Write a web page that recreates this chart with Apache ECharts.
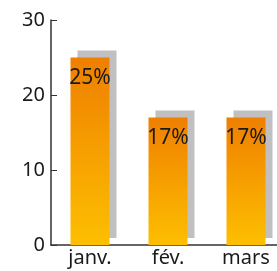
<!DOCTYPE html>
<html>
<head>
<meta charset="utf-8">
<script src="https://cdn.jsdelivr.net/npm/echarts@6/dist/echarts.min.js"></script>
<style>
  html, body { margin: 0; padding: 0; background: #fff; }
  #chart { width: 277px; height: 271px; }
</style>
</head>
<body>
<div id="chart"></div>
<script>
const categories = ['janv.', 'fév.', 'mars']
const values = [25, 17, 17]
const labels = ['25%', '17%', '17%']

const chart = echarts.init(document.getElementById('chart'))
const font = 'Noto Sans'
const option = {
  animation: false,
  grid: {
    left: 51,
    top: 20,
    bottom: 26,
    right: -8,
    containLabel: false,
    outerBoundsMode: 'none'
  },
  xAxis: {
    type: 'category',
    data: categories,
    axisLine: { lineStyle: { color: '#333', width: 1.5 } },
    axisTick: { inside: true, length: 4, lineStyle: { color: '#333' } },
    axisLabel: { color: '#1a1a1a', fontSize: 20, fontFamily: font, margin: 3 }
  },
  yAxis: {
    type: 'value',
    min: 0,
    max: 30,
    interval: 10,
    splitLine: { show: false },
    axisLine: { show: true, lineStyle: { color: '#333', width: 1.5 } },
    axisTick: { show: true, inside: true, length: 6, lineStyle: { color: '#333' } },
    axisLabel: { color: '#1a1a1a', fontSize: 20, fontFamily: font, margin: 6 }
  },
  series: [
    {
      type: 'bar',
      barWidth: '50%',
      data: values,
      itemStyle: {
        color: new echarts.graphic.LinearGradient(0, 0, 0, 1, [
          { offset: 0, color: '#ef7f00' },
          { offset: 1, color: '#fdbf00' }
        ]),
        shadowColor: '#c0c0c0',
        shadowBlur: 0,
        shadowOffsetX: 7,
        shadowOffsetY: -7
      },
      label: {
        show: true,
        position: 'insideTop',
        distance: 10,
        color: '#1a1a1a',
        fontSize: 21,
        fontFamily: font,
        formatter: (p) => labels[p.dataIndex]
      }
    }
  ]
}
chart.setOption(option)
</script>
</body>
</html>
